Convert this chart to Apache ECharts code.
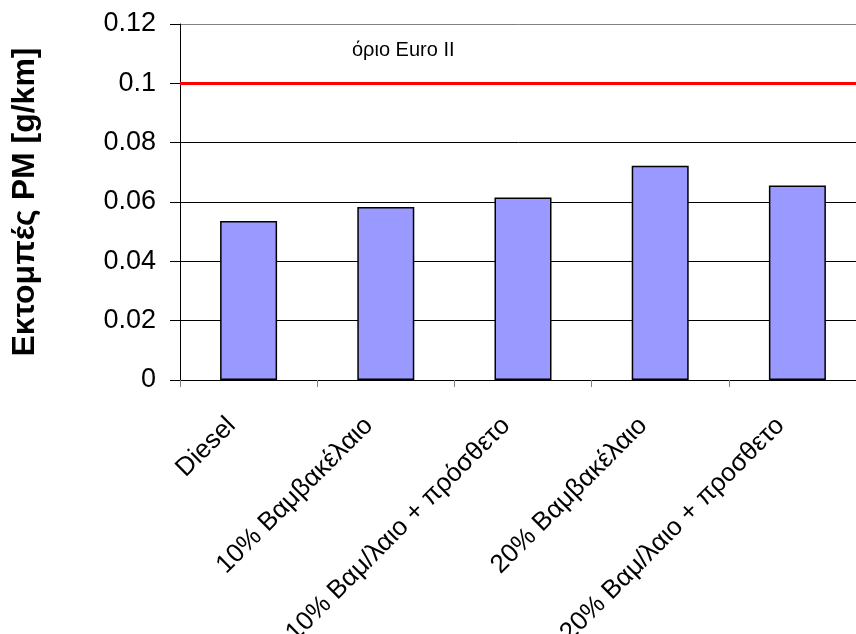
<!DOCTYPE html>
<html>
<head>
<meta charset="utf-8">
<script src="https://cdn.jsdelivr.net/npm/echarts@6/dist/echarts.min.js"></script>
<style>
  html, body { margin: 0; padding: 0; background: #fff; }
  #main { width: 856px; height: 634px; }
</style>
</head>
<body>
<div id="main"></div>
<script>
var categories = ['Diesel', '10% Βαμβακέλαιο', '10% Βαμ/λαιο + πρόσθετο', '20% Βαμβακέλαιο', '20% Βαμ/λαιο + προσθετο'];
var pmValues = [0.0536, 0.0583, 0.0615, 0.0722, 0.0656];
var euroLimit = 0.1;

var chart = echarts.init(document.getElementById('main'));

chart.setOption({
    animation: false,
    textStyle: { fontFamily: 'Liberation Sans, Arial, sans-serif' },
    grid: { left: 180, right: -10, top: 24, bottom: 254, outerBoundsMode: 'none', containLabel: false },
    xAxis: {
        type: 'category',
        data: categories,
        axisLine: { lineStyle: { color: '#000', width: 1 } },
        axisTick: { show: true, length: 7, lineStyle: { color: '#808080' } },
        axisLabel: {
            rotate: 45, fontSize: 26, color: '#000', margin: 43, interval: 0,
            verticalAlign: 'bottom', padding: [0, 11, 0, 0]
        }
    },
    yAxis: {
        type: 'value',
        min: 0,
        max: 0.12,
        interval: 0.02,
        name: 'Εκτομπές PM [g/km]',
        nameLocation: 'middle',
        nameGap: 139,
        nameTextStyle: { fontSize: 32, fontWeight: 'bold', color: '#000' },
        axisLine: { show: true, lineStyle: { color: '#000', width: 1 } },
        axisTick: { show: true, length: 10, lineStyle: { color: '#000' } },
        axisLabel: { fontSize: 27, color: '#000', margin: 24 },
        splitLine: {
            lineStyle: {
                color: ['#000', '#000', '#000', '#000', '#000', '#000', '#808080'],
                width: 1
            }
        }
    },
    series: [{
        type: 'bar',
        data: pmValues,
        barWidth: 57,
        itemStyle: { color: '#9999ff', borderColor: '#000', borderWidth: 1.5 },
        markLine: {
            silent: true,
            symbol: 'none',
            data: [{ yAxis: euroLimit }],
            lineStyle: { color: '#ff0000', width: 3, type: 'solid' },
            label: {
                show: true,
                formatter: 'όριο Euro II',
                position: 'insideStartTop',
                distance: [172, 23],
                fontSize: 20,
                color: '#000'
            }
        }
    }]
});
</script>
</body>
</html>
